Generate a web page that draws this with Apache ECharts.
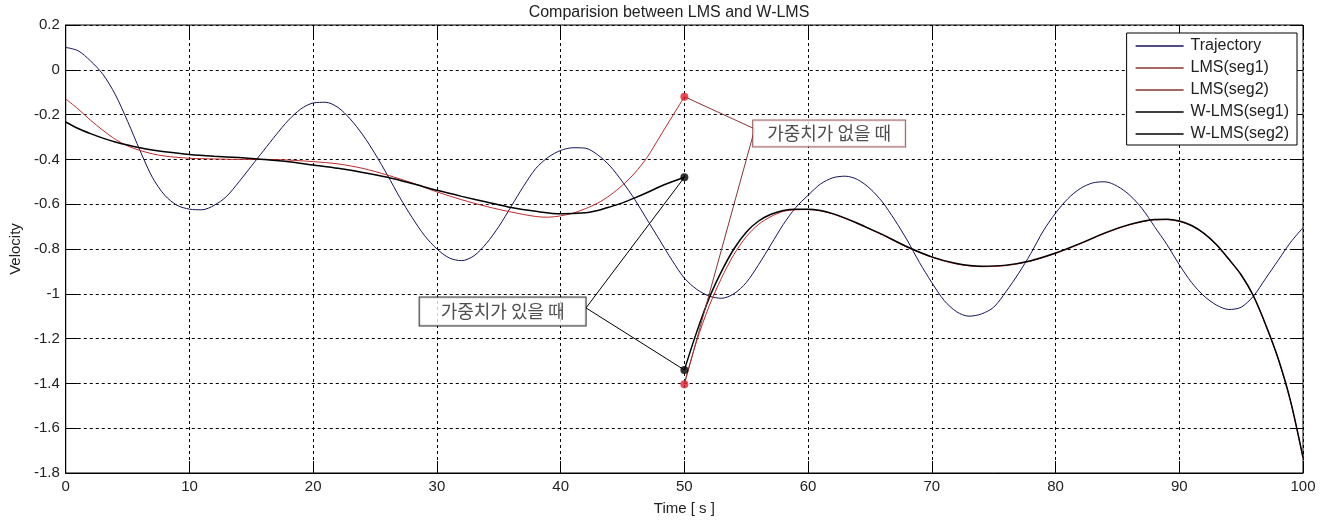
<!DOCTYPE html>
<html>
<head>
<meta charset="utf-8">
<script src="https://cdn.jsdelivr.net/npm/echarts@6/dist/echarts.min.js"></script>
<style>
html,body{margin:0;padding:0;background:#fff;}
#main{width:1338px;height:530px;}
</style>
</head>
<body>
<div id="main"></div>
<script>
// ---------- DATA ----------
const titleText = 'Comparision between LMS and W-LMS';
const xName = 'Time [ s ]';
const yName = 'Velocity';
const legendNames = ['Trajectory', 'LMS(seg1)', 'LMS(seg2)', 'W-LMS(seg1)', 'W-LMS(seg2)'];

const trajT = [0,1,2,3,4,5,6,7,8,9,10,11,12,13,14,15,16,17,18,19,20,21,22,23,24,25,26,27,28,29,30,31,32,33,34,35,36,37,38,39,40,41,42,43,44,45,46,47,48,49,50,51,52,53,54,55,56,57,58,59,60,61,62,63,64,65,66,67,68,69,70,71,72,73,74,75,76,77,78,79,80,81,82,83,84,85,86,87,88,89,90,91,92,93,94,95,96,97,98,99,100];
const trajV = [0.10,0.085,0.04,-0.02,-0.11,-0.23,-0.36,-0.48,-0.56,-0.605,-0.622,-0.625,-0.605,-0.565,-0.50,-0.43,-0.36,-0.29,-0.225,-0.175,-0.148,-0.145,-0.168,-0.22,-0.29,-0.375,-0.47,-0.57,-0.66,-0.74,-0.80,-0.84,-0.852,-0.83,-0.775,-0.70,-0.61,-0.52,-0.44,-0.39,-0.36,-0.348,-0.35,-0.38,-0.43,-0.50,-0.58,-0.67,-0.76,-0.85,-0.93,-0.98,-1.01,-1.02,-1.00,-0.95,-0.87,-0.78,-0.69,-0.615,-0.56,-0.51,-0.482,-0.475,-0.49,-0.53,-0.59,-0.67,-0.76,-0.86,-0.95,-1.03,-1.08,-1.10,-1.09,-1.06,-0.99,-0.91,-0.82,-0.72,-0.64,-0.575,-0.53,-0.505,-0.50,-0.52,-0.56,-0.62,-0.70,-0.78,-0.87,-0.95,-1.01,-1.05,-1.07,-1.06,-1.01,-0.93,-0.85,-0.77,-0.705];

const lms1T = [0,1,2,3,4,5,6,7,8,10,12,14,16,18,20,22,24,26,28,30,32,34,36,38,39,40,41,42,43,44,45,46,47,48,49,50];
const lms1V = [-0.13,-0.175,-0.225,-0.27,-0.31,-0.34,-0.36,-0.375,-0.385,-0.395,-0.398,-0.40,-0.40,-0.403,-0.41,-0.42,-0.44,-0.47,-0.505,-0.545,-0.58,-0.61,-0.635,-0.655,-0.658,-0.652,-0.64,-0.62,-0.595,-0.56,-0.515,-0.46,-0.39,-0.30,-0.21,-0.12];

const wlms1T = [0,1,2,3,4,5,6,7,8,10,12,14,16,18,20,22,24,26,28,30,32,34,36,38,40,42,43,44,45,46,47,48,49,50];
const wlms1V = [-0.233,-0.262,-0.285,-0.305,-0.322,-0.336,-0.348,-0.358,-0.366,-0.378,-0.386,-0.392,-0.40,-0.41,-0.425,-0.44,-0.458,-0.48,-0.508,-0.538,-0.565,-0.59,-0.615,-0.632,-0.643,-0.638,-0.628,-0.612,-0.594,-0.572,-0.548,-0.522,-0.50,-0.48];

const seg2T = [50,51,52,53,54,55,56,57,58,59,60,61,62,63,64,65,66,68,70,72,74,76,78,80,82,84,86,88,89,90,91,92,93,94,95,96,97,98,99,100];
const lms2V = [-1.40,-1.21,-1.055,-0.93,-0.825,-0.745,-0.69,-0.655,-0.632,-0.625,-0.624,-0.63,-0.644,-0.664,-0.687,-0.712,-0.737,-0.792,-0.837,-0.867,-0.879,-0.874,-0.854,-0.82,-0.777,-0.73,-0.692,-0.67,-0.669,-0.677,-0.697,-0.732,-0.782,-0.847,-0.917,-1.012,-1.142,-1.292,-1.482,-1.735];
const wlms2V = [-1.34,-1.17,-1.02,-0.90,-0.80,-0.725,-0.675,-0.645,-0.628,-0.622,-0.622,-0.628,-0.642,-0.662,-0.685,-0.71,-0.735,-0.79,-0.835,-0.865,-0.877,-0.872,-0.852,-0.818,-0.775,-0.728,-0.69,-0.668,-0.667,-0.675,-0.695,-0.73,-0.78,-0.845,-0.915,-1.01,-1.14,-1.29,-1.48,-1.73];

// annotations: [t, v] of dots, elbow points and label boxes
const noWeightText = '가중치가 없을 때';
const noWeightDots = [[50, -0.12], [50, -1.404]];
const noWeightElbow = [55.69, -0.264];
const noWeightBox = [61.70, -0.284];
const withWeightText = '가중치가 있을 때';
const withWeightDots = [[50, -0.48], [50, -1.34]];
const withWeightElbow = [42.05, -1.063];
const withWeightBox = [35.31, -1.079];

const xTicks = {min: 0, max: 100, interval: 10};
const yTicks = {min: -1.8, max: 0.2, interval: 0.2};

// ---------- CHART ----------
const zip = (t, v) => t.map((x, i) => [x, v[i]]);
const RED = '#c0282a';
const DRED = '#8a3434';
const NAVY = '#14145a';
const FONT = '"Liberation Sans", Arial, sans-serif';
const KFONT = '"Noto Sans CJK KR", sans-serif';

const chart = echarts.init(document.getElementById('main'), null, {renderer: 'canvas'});

const tickStyle = {inside: true, length: 12, lineStyle: {color: '#000', width: 1}};
const labelStyle = {fontFamily: FONT, fontSize: 15, color: '#222'};

function boxLabel(text, border, w, h) {
  return {
    show: true, position: 'inside', formatter: text,
    fontFamily: KFONT, fontSize: 18, color: '#222',
    backgroundColor: '#fff', borderColor: border, borderWidth: 1,
    width: w, height: h, lineHeight: h, align: 'center', verticalAlign: 'middle', padding: 0
  };
}

const option = {
  backgroundColor: '#fff',
  animation: false,
  title: {
    text: titleText, left: 'center', top: 0,
    textStyle: {fontFamily: FONT, fontSize: 16, fontWeight: 'normal', color: '#222'}
  },
  grid: {left: 64, top: 25, right: 35, bottom: 57, show: true, borderColor: '#000', borderWidth: 1, backgroundColor: '#fff'},
  legend: {
    data: legendNames, orient: 'vertical', right: 41, top: 33,
    backgroundColor: '#fff', borderColor: '#000', borderWidth: 1,
    padding: [5, 8, 3, 9], itemGap: 6, itemWidth: 48, itemHeight: 1.5, icon: 'rect',
    textStyle: {fontFamily: FONT, fontSize: 16, color: '#222', padding: [0, 0, 0, 2]}
  },
  xAxis: [{
    type: 'value', min: xTicks.min, max: xTicks.max, interval: xTicks.interval,
    name: xName, nameLocation: 'middle', nameGap: 28,
    nameTextStyle: labelStyle,
    axisLine: {show: true, onZero: false, lineStyle: {color: '#000'}},
    axisTick: tickStyle,
    axisLabel: Object.assign({margin: 6}, labelStyle),
    splitLine: {show: true, lineStyle: {color: '#000', type: [3, 3], width: 1}}
  }, {
    type: 'value', position: 'top', min: xTicks.min, max: xTicks.max, interval: xTicks.interval,
    axisLine: {show: false, onZero: false}, axisTick: tickStyle, axisLabel: {show: false}, splitLine: {show: false}
  }],
  yAxis: [{
    type: 'value', min: yTicks.min, max: yTicks.max, interval: yTicks.interval,
    name: yName, nameLocation: 'middle', nameGap: 40,
    nameTextStyle: labelStyle,
    axisLine: {show: true, onZero: false, lineStyle: {color: '#000'}},
    axisTick: tickStyle,
    axisLabel: Object.assign({margin: 6}, labelStyle),
    splitLine: {show: true, lineStyle: {color: '#000', type: [3, 3], width: 1}}
  }, {
    type: 'value', position: 'right', min: yTicks.min, max: yTicks.max, interval: yTicks.interval,
    axisLine: {show: false, onZero: false}, axisTick: tickStyle, axisLabel: {show: false}, splitLine: {show: false}
  }],
  series: [
    {name: 'Trajectory', type: 'line', data: zip(trajT, trajV), smooth: 0.3, symbol: 'none',
     lineStyle: {color: NAVY, width: 1}, itemStyle: {color: NAVY}},
    {name: 'LMS(seg1)', type: 'line', data: zip(lms1T, lms1V), smooth: 0.3, symbol: 'none',
     lineStyle: {color: RED, width: 1}, itemStyle: {color: DRED}},
    {name: 'LMS(seg2)', type: 'line', data: zip(seg2T, lms2V), smooth: 0.3, symbol: 'none',
     lineStyle: {color: RED, width: 1}, itemStyle: {color: DRED}},
    {name: 'W-LMS(seg1)', type: 'line', data: zip(wlms1T, wlms1V), smooth: 0.3, symbol: 'none',
     lineStyle: {color: '#000', width: 1.5}, itemStyle: {color: '#000'}},
    {name: 'W-LMS(seg2)', type: 'line', data: zip(seg2T, wlms2V), smooth: 0.3, symbol: 'none',
     lineStyle: {color: '#000', width: 1.5}, itemStyle: {color: '#000'}},
    // leader lines
    {name: 'leaderRed', type: 'line', data: [noWeightDots[0], noWeightElbow, noWeightDots[1]], symbol: 'none',
     lineStyle: {color: DRED, width: 1}, silent: true},
    {name: 'leaderBlack', type: 'line', data: [withWeightDots[0], withWeightElbow, withWeightDots[1]], symbol: 'none',
     lineStyle: {color: '#000', width: 1}, silent: true},
    // label boxes
    {name: 'boxRed', type: 'scatter', data: [noWeightBox], symbol: 'rect', symbolSize: 1, z: 5,
     itemStyle: {color: 'rgba(0,0,0,0)'}, label: boxLabel(noWeightText, DRED, 152, 26)},
    {name: 'boxBlack', type: 'scatter', data: [withWeightBox], symbol: 'rect', symbolSize: 1, z: 5,
     itemStyle: {color: 'rgba(0,0,0,0)'}, label: boxLabel(withWeightText, '#000', 166, 28)},
    // dots
    {name: 'dotsRed', type: 'scatter', data: noWeightDots, symbol: 'circle', symbolSize: 8,
     itemStyle: {color: '#e0202a'}, z: 6},
    {name: 'dotsBlack', type: 'scatter', data: withWeightDots, symbol: 'circle', symbolSize: 8,
     itemStyle: {color: '#000'}, z: 6}
  ]
};
chart.setOption(option);
</script>
</body>
</html>
